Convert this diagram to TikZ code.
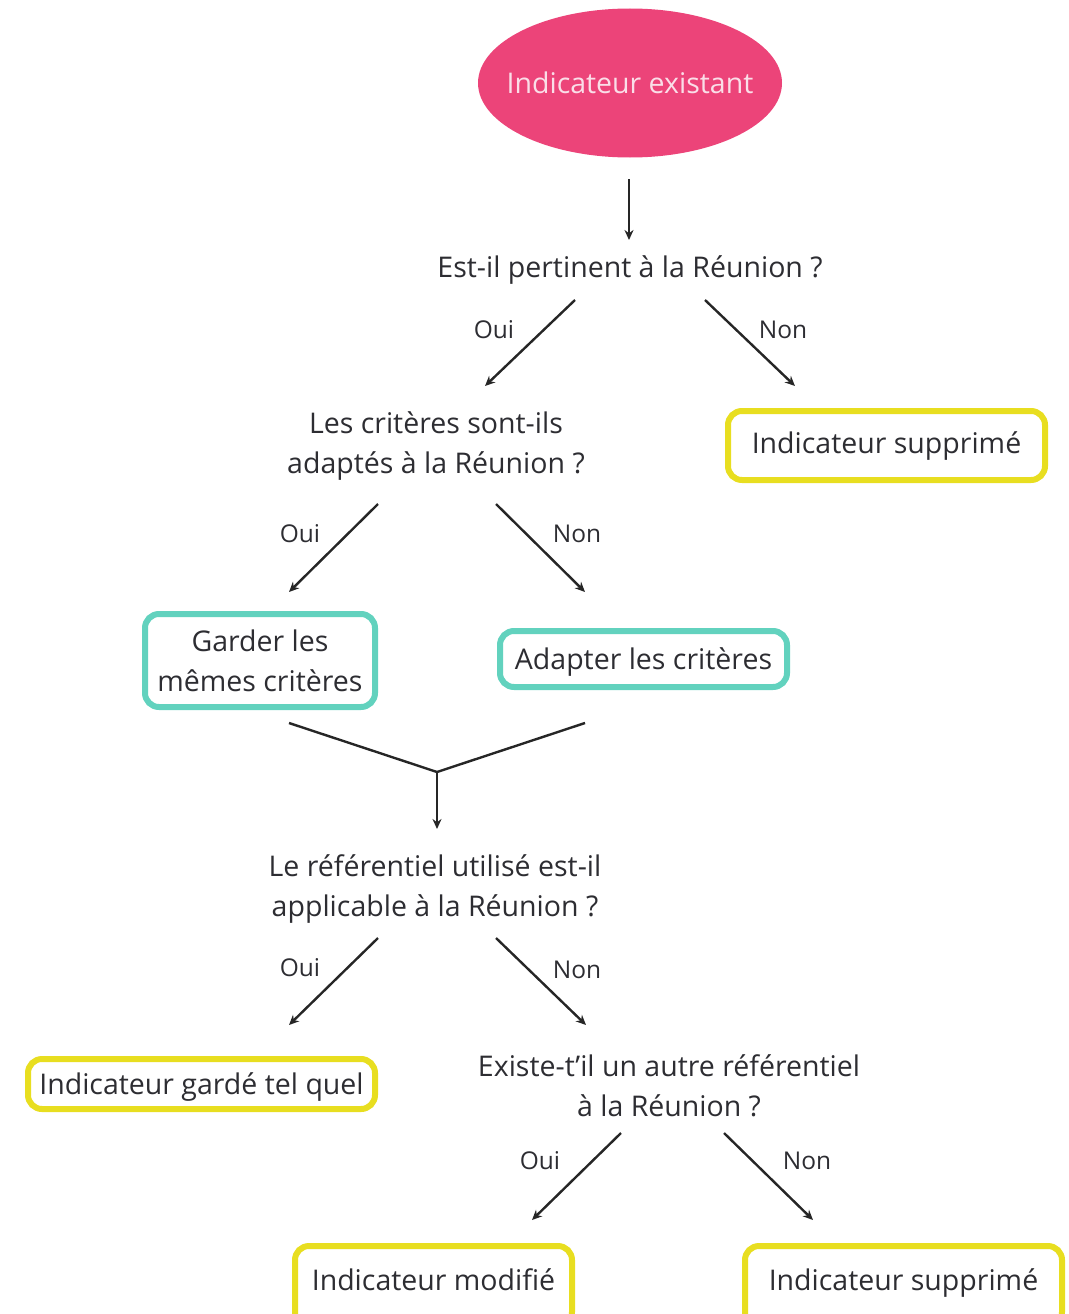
\documentclass[tikz,border=0pt]{standalone}
\usepackage{fontspec}
\setmainfont{Open Sans}
\usetikzlibrary{shapes.geometric,arrows.meta}
\definecolor{pinkfill}{RGB}{236,68,121}
\definecolor{pinktext}{RGB}{250,222,232}
\definecolor{tealc}{RGB}{98,210,190}
\definecolor{yellowc}{RGB}{232,222,32}
\definecolor{txt}{RGB}{45,45,50}
\tikzset{
  fnt/.style={font=\fontsize{28.5}{40}\selectfont},
  one/.style={text height=26pt, text depth=6pt},
  q/.style={text=txt, align=center, fnt, inner sep=0pt},
  lbl/.style={text=txt, font=\fontsize{24.5}{28}\selectfont, inner sep=0pt,
     text height=18pt, text depth=0pt},
  boxbase/.style={line width=6pt, rounded corners=14pt, fill=white, text=txt,
     align=center, fnt, inner sep=0pt},
  ybox/.style={boxbase, draw=yellowc},
  tbox/.style={boxbase, draw=tealc},
  btxt/.style={text=txt, fnt, inner sep=0pt, one},
  arr/.style={draw=black!85, line width=2.4pt, -{Stealth[length=10pt,width=9pt]}},
  ln/.style={draw=black!85, line width=2.4pt},
}
\begin{document}
\begin{tikzpicture}[x=1pt,y=-1pt]
\useasboundingbox (0,0) rectangle (1068,1314);
\clip (0,0) rectangle (1068,1314);
% start ellipse
\node[ellipse, fill=pinkfill, minimum width=304pt, minimum height=149pt, inner sep=0pt] (start) at (630,83) {};
\node[text=pinktext, fnt, inner sep=0pt] (startt) at (start) {Indicateur existant};
\coordinate (a0s) at (629,179);
\coordinate (a0e) at (629,240);
\draw[arr] (a0s) -- (a0e);
% question 1
\node[q, one] (q1) at (630,267) {Est-il pertinent à la Réunion ?};
\coordinate (q1os) at (575,300); \coordinate (q1oe) at (485,386);
\coordinate (q1ns) at (705,300); \coordinate (q1ne) at (795,386);
\draw[arr] (q1os) -- (q1oe);
\draw[arr] (q1ns) -- (q1ne);
\node[lbl] (l1o) at (494,329) {Oui};
\node[lbl] (l1n) at (783,329) {Non};
\node[ybox, minimum width=317pt, minimum height=69pt] (sup1) at (886.5,445.5) {};
\node[btxt] (sup1t) at (886.5,443) {Indicateur supprimé};
% question 2
\node[q] (q2) at (436,446) {Les critères sont-ils\\adaptés à la Réunion ?};
\coordinate (q2os) at (378,504); \coordinate (q2oe) at (289,592);
\coordinate (q2ns) at (496,504); \coordinate (q2ne) at (585,592);
\draw[arr] (q2os) -- (q2oe);
\draw[arr] (q2ns) -- (q2ne);
\node[lbl] (l2o) at (300,533) {Oui};
\node[lbl] (l2n) at (577,533) {Non};
\node[tbox, minimum width=230pt, minimum height=93pt] (garder) at (260,660.5) {Garder les\\mêmes critères};
\node[tbox, one, minimum width=287pt, minimum height=56pt] (adapter) at (643.5,659) {Adapter les critères};
% merge
\coordinate (m1) at (289,723); \coordinate (m2) at (585,723);
\coordinate (mj) at (437,772); \coordinate (me) at (437,829);
\draw[ln] (m1) -- (mj) -- (m2);
\draw[arr] (mj) -- (me);
% question 3
\node[q] (q3) at (435,889) {Le référentiel utilisé est-il\\applicable à la Réunion ?};
\coordinate (q3os) at (378,938); \coordinate (q3oe) at (289,1025);
\coordinate (q3ns) at (496,938); \coordinate (q3ne) at (586,1025);
\draw[arr] (q3os) -- (q3oe);
\draw[arr] (q3ns) -- (q3ne);
\node[lbl] (l3o) at (300,967) {Oui};
\node[lbl] (l3n) at (577,969) {Non};
\node[ybox, one, minimum width=347pt, minimum height=50pt] (garde) at (201.5,1084) {Indicateur gardé tel quel};
% question 4
\node[q] (q4) at (669,1086) {Existe-t'il un autre référentiel\\à la Réunion ?};
\coordinate (q4os) at (621,1133); \coordinate (q4oe) at (532,1220);
\coordinate (q4ns) at (724,1133); \coordinate (q4ne) at (813,1220);
\draw[arr] (q4os) -- (q4oe);
\draw[arr] (q4ns) -- (q4ne);
\node[lbl] (l4o) at (540,1160) {Oui};
\node[lbl] (l4n) at (807,1160) {Non};
\node[ybox, minimum width=277pt, minimum height=80pt] (modif) at (433.5,1286) {};
\node[btxt] (modift) at (433.5,1280) {Indicateur modifié};
\node[ybox, minimum width=317pt, minimum height=80pt] (sup2) at (903.5,1286) {};
\node[btxt] (sup2t) at (903.5,1280) {Indicateur supprimé};
\end{tikzpicture}
\end{document}
